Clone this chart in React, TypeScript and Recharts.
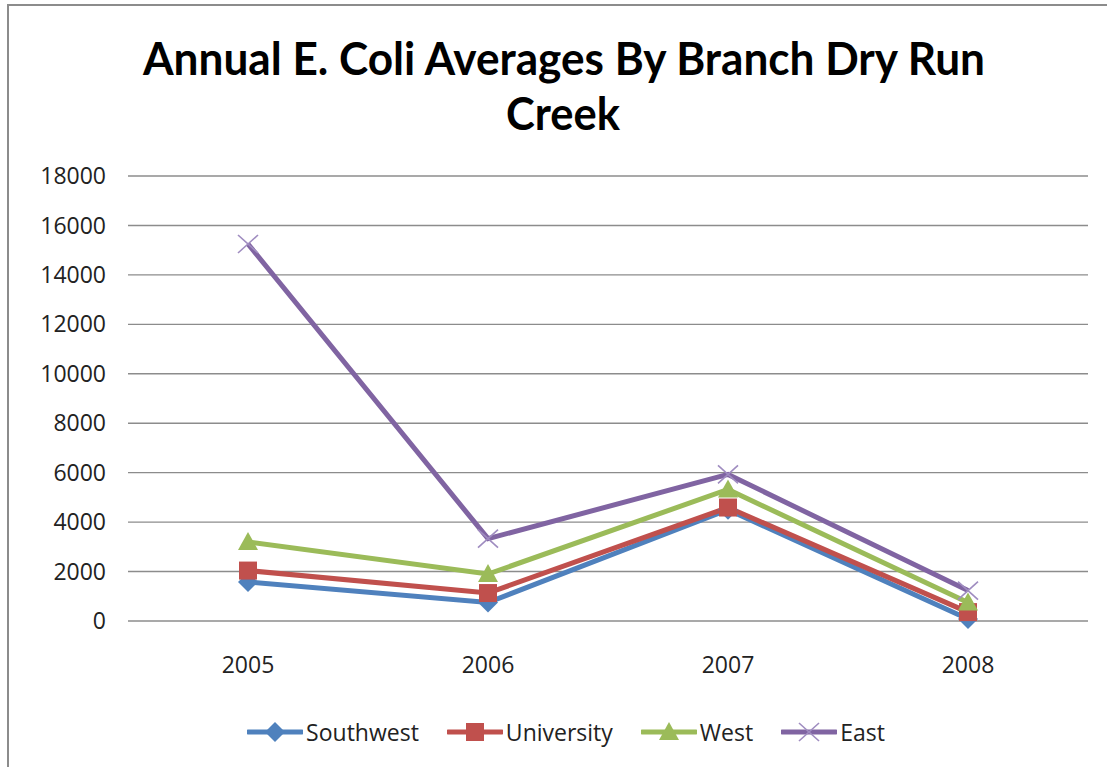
import React from "react";
import { LineChart, Line, XAxis, YAxis, CartesianGrid } from "recharts";

// Values
const YEARS = ["2005", "2006", "2007", "2008"];
const SOUTHWEST = [1580, 750, 4500, 80];
const UNIVERSITY = [2040, 1130, 4590, 360];
const WEST = [3200, 1900, 5320, 750];
const EAST = [15250, 3330, 5930, 1230];
const Y_TICKS = [0, 2000, 4000, 6000, 8000, 10000, 12000, 14000, 16000, 18000];

const SERIES = [
  { key: "Southwest", values: SOUTHWEST, color: "#4F81BD", marker: "diamond" },
  { key: "University", values: UNIVERSITY, color: "#C0504D", marker: "square" },
  { key: "West", values: WEST, color: "#9BBB59", marker: "triangle" },
  { key: "East", values: EAST, color: "#8064A2", marker: "x" },
];

const data = YEARS.map((year, i) => {
  const row: Record<string, string | number> = { year };
  SERIES.forEach((s) => {
    row[s.key] = s.values[i];
  });
  return row;
});

const FONT = "'Open Sans', 'DejaVu Sans', sans-serif";

function Marker({ kind, color, cx, cy }: { kind: string; color: string; cx: number; cy: number }) {
  if (kind === "diamond") {
    return (
      <polygon
        points={`${cx},${cy - 10} ${cx + 10},${cy} ${cx},${cy + 10} ${cx - 10},${cy}`}
        fill={color}
      />
    );
  }
  if (kind === "square") {
    return <rect x={cx - 9} y={cy - 9} width={18} height={18} fill={color} />;
  }
  if (kind === "triangle") {
    return (
      <polygon
        points={`${cx},${cy - 10} ${cx + 10},${cy + 8} ${cx - 10},${cy + 8}`}
        fill={color}
      />
    );
  }
  // x marker
  return (
    <g stroke="#9F8CC0" strokeWidth={1.6}>
      <line x1={cx - 10} y1={cy - 9} x2={cx + 10} y2={cy + 9} />
      <line x1={cx - 10} y1={cy + 9} x2={cx + 10} y2={cy - 9} />
    </g>
  );
}

function Legend() {
  return (
    <div
      style={{
        position: "absolute",
        left: 0,
        top: 717,
        width: 1132,
        display: "flex",
        justifyContent: "center",
        gap: 28,
        fontFamily: FONT,
        fontSize: 23,
        color: "#222",
      }}
    >
      {SERIES.map((s) => (
        <div key={s.key} style={{ display: "flex", alignItems: "center" }}>
          <svg width={56} height={30}>
            <line x1={1} y1={15} x2={55} y2={15} stroke={s.color} strokeWidth={5} strokeLinecap="round" />
            <Marker kind={s.marker} color={s.color} cx={28} cy={15} />
          </svg>
          <span style={{ marginLeft: 3, lineHeight: "30px" }}>{s.key}</span>
        </div>
      ))}
    </div>
  );
}

export default function App() {
  return (
    <div style={{ position: "absolute", left: 0, top: 0, width: 1107, height: 767, background: "#fff", overflow: "hidden" }}>
      {/* chart frame */}
      <div
        style={{
          position: "absolute",
          left: 7,
          top: 4,
          width: 1130,
          height: 790,
          border: "2px solid #8c8c8c",
        }}
      />
      <svg
        width={1107}
        height={160}
        style={{ position: "absolute", left: 0, top: 0 }}
      >
        <text
          x={564}
          y={75}
          textAnchor="middle"
          fontFamily="Lato, 'Open Sans', sans-serif"
          fontWeight="bold"
          fontSize={46}
          textLength={842}
          lengthAdjust="spacingAndGlyphs"
          fill="#000"
        >
          Annual E. Coli Averages By Branch Dry Run
        </text>
        <text
          x={563}
          y={130}
          textAnchor="middle"
          fontFamily="Lato, 'Open Sans', sans-serif"
          fontWeight="bold"
          fontSize={46}
          textLength={114}
          lengthAdjust="spacingAndGlyphs"
          fill="#000"
        >
          Creek
        </text>
      </svg>
      <LineChart
        width={1107}
        height={767}
        data={data}
        margin={{ top: 176, right: 19, bottom: 106, left: 28 }}
        style={{ position: "absolute", left: 0, top: 0 }}
      >
        <CartesianGrid vertical={false} stroke="#8c8c8c" strokeWidth={1.4} />
        <XAxis
          dataKey="year"
          padding={{ left: 120, right: 120 }}
          axisLine={false}
          tickLine={false}
          tickSize={0}
          tickMargin={36}
          height={40}
          tick={{ fill: "#222", fontSize: 23, fontFamily: FONT }}
        />
        <YAxis
          domain={[0, 18000]}
          ticks={Y_TICKS}
          axisLine={false}
          tickLine={false}
          tickSize={0}
          tickMargin={22}
          width={100}
          tick={{ fill: "#222", fontSize: 23, fontFamily: FONT }}
        />
        {SERIES.map((s) => (
          <Line
            key={s.key}
            dataKey={s.key}
            stroke={s.color}
            strokeWidth={5}
            isAnimationActive={false}
            dot={(props: any) => (
              <Marker key={`${s.key}-${props.index}`} kind={s.marker} color={s.color} cx={props.cx} cy={props.cy} />
            )}
            activeDot={false}
          />
        ))}
      </LineChart>
      <Legend />
    </div>
  );
}
